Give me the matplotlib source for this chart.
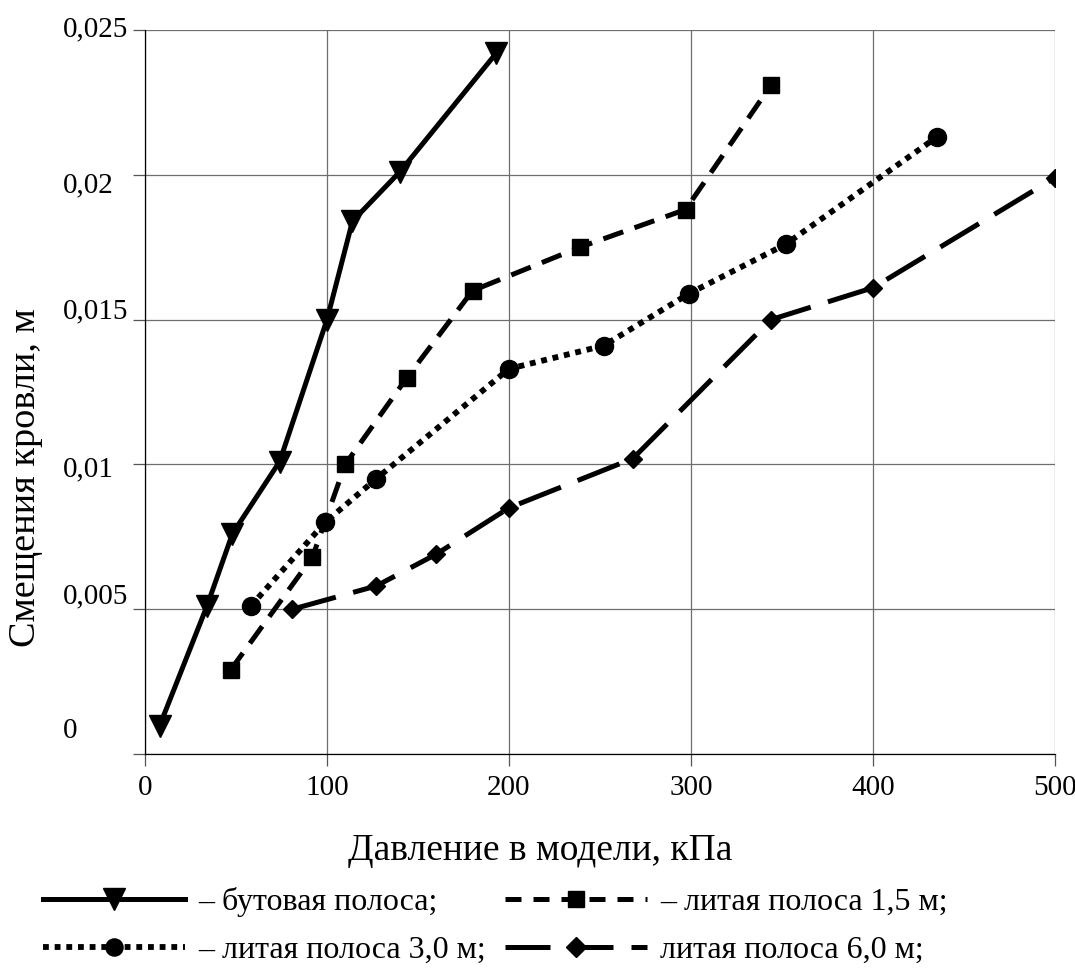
import matplotlib
matplotlib.use('Agg')
import matplotlib.pyplot as plt
from matplotlib.lines import Line2D

plt.rcParams['font.family'] = ['Liberation Serif', 'DejaVu Serif']

# ---- data ----
x_but = [8, 34, 48, 74, 100, 114, 140, 193]
y_but = [0.00097, 0.0051, 0.0076, 0.0101, 0.0150, 0.0184, 0.0201, 0.0242]

x_15 = [47, 92, 110, 144, 180, 239, 297, 344]
y_15 = [0.0029, 0.0068, 0.0100, 0.0130, 0.0160, 0.0175, 0.0188, 0.0231]

x_30 = [58, 99, 127, 200, 252, 299, 352, 435]
y_30 = [0.0051, 0.0080, 0.0095, 0.0133, 0.0141, 0.0159, 0.0176, 0.0213]

x_60 = [81, 127, 160, 200, 268, 344, 400, 500]
y_60 = [0.0050, 0.0058, 0.0069, 0.0085, 0.0102, 0.0150, 0.0161, 0.0199]

x_ticks = [0, 100, 200, 300, 400, 500]
y_ticks = [0, 0.005, 0.01, 0.015, 0.02, 0.025]
y_tick_labels = ['0', '0,005', '0,01', '0,015', '0,02', '0,025']
# small vertical misplacement of y tick labels in the original (pixels, + = down)
y_label_shift = [-25, -15, 3, -10, 9, -3]

labels = ['– бутовая полоса;', '– литая полоса 1,5 м;',
          '– литая полоса 3,0 м;', 'литая полоса 6,0 м;']

W, H, DPI = 1075, 969, 100
fig = plt.figure(figsize=(W / DPI, H / DPI), dpi=DPI)
L, R, T, B = 145, 1055, 30, 754
ax = fig.add_axes([L / W, 1 - B / H, (R - L) / W, (B - T) / H])

lw = 3.6
s1 = dict(color='black', lw=lw, ls='-', marker='v', ms=16, solid_joinstyle='miter')
s2 = dict(color='black', lw=lw, ls=(0, (4.2, 2.4)), marker='s', ms=12, dash_capstyle='butt')
s3 = dict(color='black', lw=4.2, ls=(0, (1.0, 1.0)), marker='o', ms=13, dash_capstyle='butt')
s4 = dict(color='black', lw=lw, ls=(0, (9.0, 3.6)), marker='D', ms=9, dash_capstyle='butt')

ax.plot(x_but, y_but, zorder=5, **s1)
ax.plot(x_15, y_15, zorder=5, **s2)
ax.plot(x_30, y_30, zorder=5, **s3)
ax.plot(x_60, y_60, zorder=5, **s4)

ax.set_xlim(0, 500)
ax.set_ylim(0, 0.025)
ax.set_xticks(x_ticks)
ax.set_xticklabels([str(v) for v in x_ticks])
ax.set_yticks(y_ticks)
ax.set_yticklabels([])
ax.grid(True, color='#6e6e6e', lw=0.9, zorder=0)
for sp in ['top', 'right']:
    ax.spines[sp].set_visible(False)
for sp in ['left', 'bottom']:
    ax.spines[sp].set_color('black')
    ax.spines[sp].set_linewidth(0.9)
ax.tick_params(axis='both', direction='out', length=8.6, width=0.9, color='#555555')
ax.tick_params(axis='x', labelsize=21, pad=6.5)

# y tick labels: left aligned, slightly misplaced like in the original
for val, lab, sh in zip(y_ticks, y_tick_labels, y_label_shift):
    ax.annotate(lab, xy=(0, val), xycoords=('axes fraction', 'data'),
                xytext=(63 - L, -(sh + 9)), textcoords='offset pixels',
                ha='left', va='baseline', fontsize=21, annotation_clip=False)

# axis titles are centred on the figure (as in the original)
ax.set_xlabel('Давление в модели, кПа', fontsize=27)
ax.xaxis.set_label_coords(540 / W, 1 - 860 / H, transform=fig.transFigure)
ax.xaxis.label.set_verticalalignment('baseline')
ax.set_ylabel('Смещения кровли, м', fontsize=27.5)
ax.yaxis.set_label_coords(26 / W, 1 - 478 / H, transform=fig.transFigure)
ax.yaxis.label.set_verticalalignment('center')

# legend samples (shorter dashes, as drawn in the original legend)
h1 = Line2D([], [], **s1)
h2 = Line2D([], [], **{**s2, 'ls': (0, (3.2, 2.4))})
h3 = Line2D([], [], **s3)
h4 = Line2D([], [], **{**s4, 'ms': 11})
# row 1 = бутовая, 1,5 м ; row 2 = 3,0 м, 6,0 м (column-major fill)
handles = [h1, h3, h2, h4]
leg_labels = [labels[0], labels[2], labels[1], labels[3]]
leg = fig.legend(handles, leg_labels, ncol=2, loc='center left',
                 bbox_to_anchor=(43 / W, 1 - 926 / H), bbox_transform=fig.transFigure,
                 frameon=False, fontsize=23, handlelength=4.45, handletextpad=0.41,
                 columnspacing=0.6, labelspacing=0.6, borderpad=0, borderaxespad=0,
                 numpoints=1, markerscale=0.95)

fig.savefig('out.png', dpi=DPI)
